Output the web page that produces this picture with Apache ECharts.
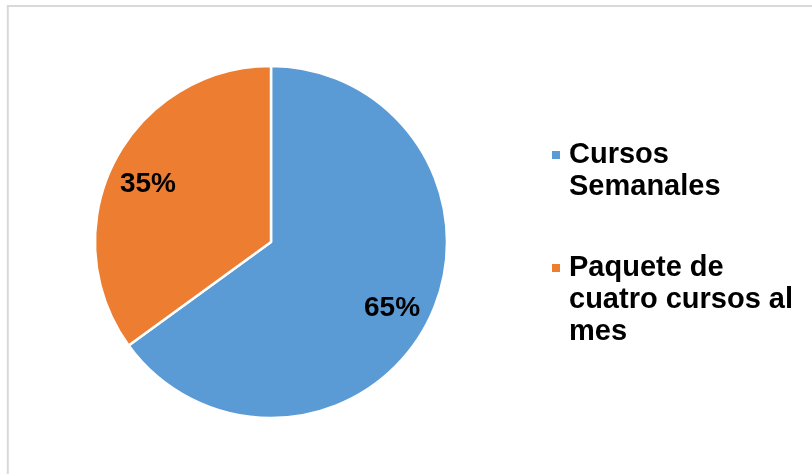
<!DOCTYPE html>
<html>
<head>
<meta charset="utf-8">
<style>
  html, body { margin: 0; padding: 0; background: #ffffff; }
  #chart { width: 812px; height: 474px; }
</style>
<script src="https://cdn.jsdelivr.net/npm/echarts@6/dist/echarts.min.js"></script>
</head>
<body>
<div id="chart"></div>
<script>
// Shares of enrolment by purchase option (percent)
const categories = ['Cursos Semanales', 'Paquete de cuatro cursos al mes'];
const legendLabels = ['Cursos\nSemanales', 'Paquete de\ncuatro cursos al\nmes'];
const shares = [65, 35];
const colors = ['#5B9BD5', '#ED7D31'];

const FONT = '"Liberation Sans", Arial, sans-serif';
const LINE_H = 32;
const CENTER = [271, 242];
const RADIUS = 176;

const pieData = categories.map((name, i) => ({
  name: name,
  value: shares[i],
  itemStyle: { color: colors[i] }
}));

// Legend text is centred on its square; leading blank lines put the
// square level with the first written line instead.
function padLabel(text) {
  const n = text.split('\n').length;
  return ' \n'.repeat(n - 1) + text;
}
const legendSquareCenters = [155, 268];
const legends = categories.map((name, i) => {
  const label = padLabel(legendLabels[i]);
  const lines = label.split('\n').length;
  return {
    orient: 'vertical',
    left: 550,
    top: legendSquareCenters[i] - lines * LINE_H / 2,
    padding: 0,
    itemWidth: 10,
    itemHeight: 10,
    icon: 'rect',
    selectedMode: false,
    data: [name],
    formatter: () => label,
    textStyle: {
      fontFamily: FONT,
      fontSize: 29,
      fontWeight: 'bold',
      color: '#000000',
      lineHeight: LINE_H,
      padding: [0, 0, 0, 3]
    }
  };
});

const chart = echarts.init(document.getElementById('chart'), null, { renderer: 'canvas' });
chart.setOption({
  animation: false,
  backgroundColor: '#ffffff',
  graphic: [{
    type: 'rect',
    shape: { x: 7.8, y: 6, width: 830, height: 490 },
    style: { fill: 'none', stroke: '#d9d9d9', lineWidth: 2 },
    silent: true,
    z: -1
  }],
  legend: legends,
  series: [
    {
      type: 'pie',
      center: CENTER,
      radius: [0, RADIUS],
      startAngle: 90,
      clockwise: true,
      avoidLabelOverlap: false,
      itemStyle: { borderColor: '#ffffff', borderWidth: 2.5 },
      label: { show: false },
      labelLine: { show: false },
      emphasis: { disabled: true },
      data: pieData
    },
    {
      // transparent ring carrying the percentage labels further out than mid-radius
      type: 'pie',
      center: CENTER,
      radius: [92, RADIUS],
      startAngle: 90,
      clockwise: true,
      silent: true,
      avoidLabelOverlap: false,
      itemStyle: { color: 'rgba(0,0,0,0)', borderWidth: 0 },
      label: {
        show: true,
        position: 'inside',
        formatter: '{c}%',
        offset: [-1, 4],
        fontFamily: FONT,
        fontSize: 28,
        fontWeight: 'bold',
        color: '#000000'
      },
      labelLine: { show: false },
      emphasis: { disabled: true },
      legendHoverLink: false,
      data: categories.map((name, i) => ({ name: name, value: shares[i] }))
    }
  ]
});
</script>
</body>
</html>
